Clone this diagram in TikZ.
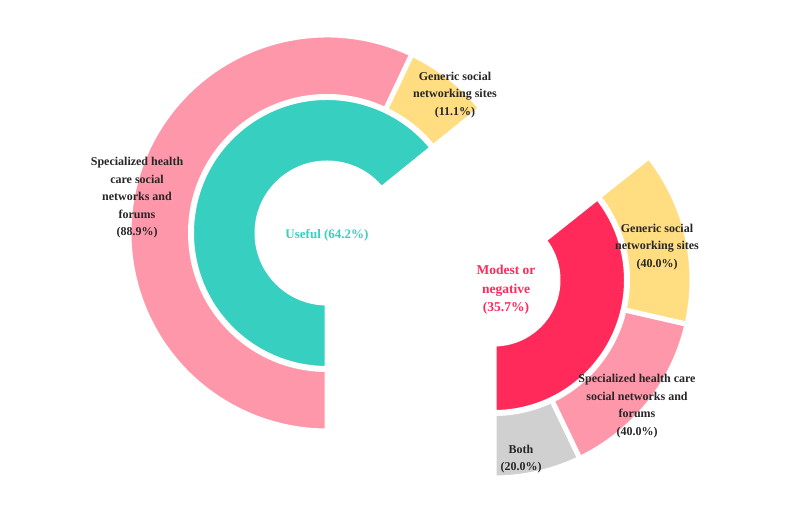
\documentclass[tikz,border=0pt]{standalone}
\usepackage{fontspec}
\setmainfont{Liberation Serif}
\definecolor{cteal}{HTML}{36CFC0}
\definecolor{cpink}{HTML}{FF97AA}
\definecolor{cyel}{HTML}{FFDD80}
\definecolor{cred}{HTML}{FF2A5A}
\definecolor{cgray}{HTML}{D0D0D0}
\definecolor{ctxt}{HTML}{262626}
\newcommand\myseg[6]{% color, center, a1, a2, ri, ro
  \filldraw[fill=#1,draw=white,line width=5pt,line join=miter]
    ([shift={(#2)}]#3:#5) -- ([shift={(#2)}]#3:#6)
    arc[start angle=#3,end angle=#4,radius=#6]
    -- ([shift={(#2)}]#4:#5)
    arc[start angle=#4,end angle=#3,radius=#5] -- cycle;}
\begin{document}
\begin{tikzpicture}[x=1pt,y=1pt,
  lab/.style={align=center,font=\fontsize{12}{17.5}\selectfont\bfseries,text=ctxt,inner sep=0pt}]
\useasboundingbox (0,0) rectangle (800,508);
\coordinate (L) at (327,275);
\coordinate (R) at (494,228);
\myseg{cteal}{L}{39}{270}{70}{135.5}
\myseg{cpink}{L}{64.6}{270}{136.5}{198}
\myseg{cyel}{L}{39}{64.6}{136.5}{198}
\myseg{cred}{R}{-90}{38.5}{64}{132.5}
\myseg{cgray}{R}{-90}{-64.3}{133.5}{198}
\myseg{cpink}{R}{-64.3}{-12.9}{133.5}{198}
\myseg{cyel}{R}{-12.9}{38.5}{133.5}{198}
\node[lab] (l1) at (137,310) {Specialized health\\care social\\networks and\\forums\\(88.9\%)};
\node[lab] (l2) at (455,413) {Generic social\\networking sites\\(11.1\%)};
\node[lab,text=cteal,font=\fontsize{13}{17.5}\selectfont\bfseries] (l3) at (327,273) {Useful (64.2\%)};
\node[lab,text=cred,font=\fontsize{13.5}{18.5}\selectfont\bfseries] (l4) at (506,218) {Modest or\\negative\\(35.7\%)};
\node[lab] (l5) at (657,261) {Generic social\\networking sites\\(40.0\%)};
\node[lab] (l6) at (637,102) {Specialized health care\\social networks and\\forums\\(40.0\%)};
\node[lab] (l7) at (521,49) {Both\\(20.0\%)};
\end{tikzpicture}
\end{document}
